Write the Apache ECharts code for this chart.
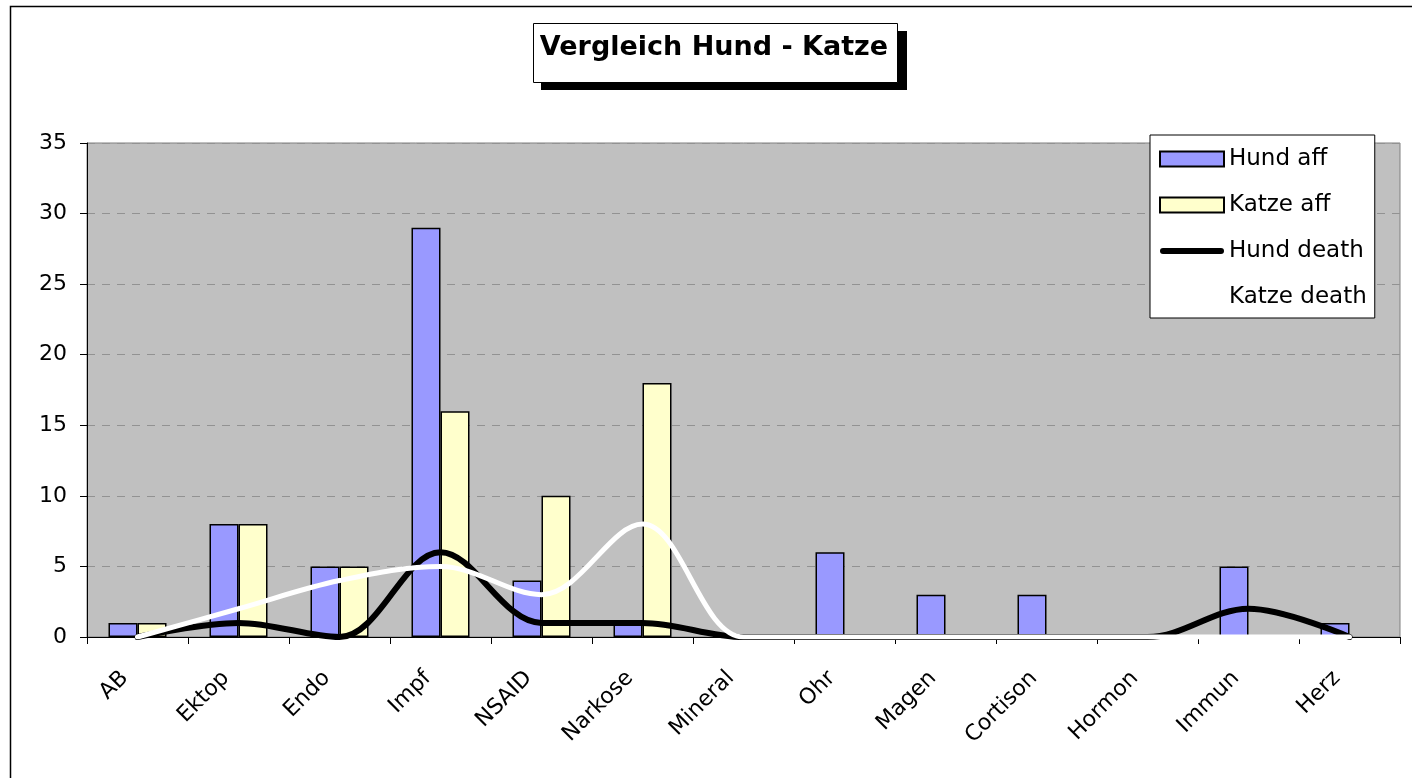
<!DOCTYPE html>
<html>
<head>
  <meta charset="utf-8" />
  <title>Vergleich Hund - Katze</title>
  <script src="https://cdn.jsdelivr.net/npm/echarts@6/dist/echarts.min.js"></script>
  <style>
    html, body { margin: 0; padding: 0; background: #fff; }
    #chart-main { width: 1412px; height: 778px; }
  </style>
</head>
<body>
<div id="chart-main"></div>

<script type="text/javascript">
// data
var categories = ['AB', 'Ektop', 'Endo', 'Impf', 'NSAID', 'Narkose', 'Mineral', 'Ohr', 'Magen', 'Cortison', 'Hormon', 'Immun', 'Herz'];
var hundAff    = [1, 8, 5, 29, 4, 1, 0, 6, 3, 3, 0, 5, 1];
var katzeAff   = [1, 8, 5, 16, 10, 18, 0, 0, 0, 0, 0, 0, 0];
var hundDeath  = [0, 1, 0, 6, 1, 1, 0, 0, 0, 0, 0, 2, 0];
var katzeDeath = [0, 2, 4, 5, 3, 8, 0, 0, 0, 0, 0, 0, 0];
var yMin = 0, yMax = 35, yStep = 5;

var font = 'DejaVu Sans';
var myChart = echarts.init(document.getElementById('chart-main'));

// excel shows nothing for a zero bar
function barData(arr) {
  return arr.map(function (v) { return v === 0 ? null : v; });
}

var barBorder = { borderColor: '#000', borderWidth: 1.5 };
var lineIcon = 'path://M3,0 L61,0 A3,3 0 0 1 61,6 L3,6 A3,3 0 0 1 3,0 Z';

var option = {
  backgroundColor: '#fff',
  animation: false,
  legend: {
    orient: 'vertical',
    left: 1150, top: 135,
    padding: [12, 8, 9, 9],
    backgroundColor: '#fff',
    borderColor: '#000', borderWidth: 1,
    itemWidth: 64, itemHeight: 15, itemGap: 22, itemTextGap: 14,
    textStyle: { fontFamily: font, fontSize: 23, color: '#000', lineHeight: 24 },
    data: [
      { name: 'Hund aff', icon: 'rect' },
      { name: 'Katze aff', icon: 'rect' },
      { name: 'Hund death', icon: lineIcon },
      { name: 'Katze death', icon: lineIcon }
    ]
  },
  grid: {
    left: 87, right: 12, top: 143, bottom: 141,
    show: true, backgroundColor: '#C0C0C0', borderColor: '#808080', borderWidth: 1
  },
  xAxis: {
    type: 'category',
    data: categories,
    boundaryGap: true,
    axisLine: { lineStyle: { color: '#000', width: 1 } },
    axisTick: { show: true, length: 7, lineStyle: { color: '#000' } },
    axisLabel: { rotate: 45, margin: 25, padding: [0, 18, 0, 0], fontFamily: font, fontSize: 22, color: '#000', interval: 0 }
  },
  yAxis: {
    type: 'value',
    min: yMin, max: yMax, interval: yStep,
    axisLine: { show: true, lineStyle: { color: '#000', width: 1 } },
    axisTick: { show: true, length: 7, lineStyle: { color: '#000' } },
    axisLabel: { margin: 20, fontFamily: font, fontSize: 22, color: '#000' },
    splitLine: { show: true, lineStyle: { type: [8, 7], color: '#929292', width: 1 } }
  },
  graphic: [
    {
      type: 'rect', silent: true, z: -10,
      shape: { x: 10.5, y: 6.5, width: 1430, height: 800 },
      style: { fill: null, stroke: '#000', lineWidth: 1.5 }
    },
    {
      type: 'rect', silent: true, z: 10,
      shape: { x: 541, y: 31, width: 366, height: 59 },
      style: { fill: '#000' }
    },
    {
      type: 'rect', silent: true, z: 11,
      shape: { x: 533.5, y: 23.5, width: 364, height: 59 },
      style: { fill: '#fff', stroke: '#000', lineWidth: 1 }
    },
    {
      type: 'text', silent: true, z: 12,
      x: 714, y: 48,
      style: {
        text: 'Vergleich Hund - Katze',
        fontFamily: font, fontSize: 27, fontWeight: 'bold', fill: '#000',
        align: 'center', verticalAlign: 'middle'
      }
    }
  ],
  series: [
    {
      name: 'Hund aff', type: 'bar', data: barData(hundAff),
      barWidth: 29, barGap: '0%',
      itemStyle: Object.assign({ color: '#9999FF' }, barBorder)
    },
    {
      name: 'Katze aff', type: 'bar', data: barData(katzeAff),
      barWidth: 29, barGap: '0%',
      itemStyle: Object.assign({ color: '#FFFFCC' }, barBorder)
    },
    {
      name: 'Hund death', type: 'line', data: hundDeath,
      smooth: 0.35, symbol: 'none',
      lineStyle: { color: '#000', width: 6, cap: 'round' },
      itemStyle: { color: '#000' }
    },
    {
      name: 'Katze death', type: 'line', data: katzeDeath,
      smooth: 0.35, symbol: 'none',
      lineStyle: { color: '#fff', width: 5, cap: 'round' },
      itemStyle: { color: '#fff' }
    }
  ]
};

myChart.setOption(option);
</script>
</body>
</html>
